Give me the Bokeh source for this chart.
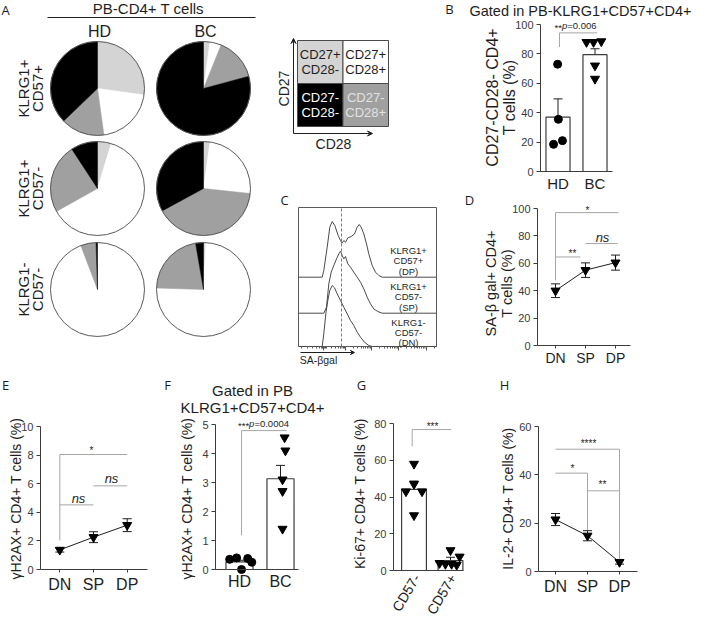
from math import radians, pi
import numpy as np
from bokeh.plotting import figure
from bokeh.models import (Range1d, LinearAxis, FixedTicker, Label, Arrow, VeeHead,
                          Whisker, TeeHead, ColumnDataSource)
from bokeh.layouts import row, column
from bokeh.core.properties import value
from bokeh.embed import file_html
from bokeh.resources import INLINE

# ---------------- data ----------------
# A: CD27/CD28 subsets (%), clockwise from 12 o'clock
slice_names = ["CD27+CD28-", "CD27+CD28+", "CD27-CD28+", "CD27-CD28-"]
pie_rows = [("KLRG1+", "CD57+"), ("KLRG1+", "CD57-"), ("KLRG1-", "CD57-")]
pie_hd = [[27.2, 20.6, 15.0, 37.2], [4.7, 62.2, 23.9, 9.2], [0.1, 94.1, 5.3, 0.5]]
pie_bc = [[2.2, 3.9, 14.7, 79.2], [2.2, 24.5, 40.4, 32.9], [0.8, 74.7, 21.8, 2.7]]

# B: CD27-CD28- in KLRG1+CD57+CD4+ (%)
groups = ["HD", "BC"]
b_mean = [37.0, 79.5]
b_sem = [12.4, 4.0]
b_hd = [73, 35.5, 21, 18.5]
b_bc = [88, 88, 88.5, 72, 63]
b_hd_jit = [-0.01, 0.01, 0.12, -0.12]
b_bc_jit = [-0.23, -0.04, 0.17, 0.0, 0.0]

# C: SA-beta-gal histograms (channel, events)
dp_x = [0, 23.7, 25.3, 28.7, 31.3, 33.7, 36.3, 39.7, 42, 43.7, 45.3, 47, 49.3, 52.7, 56,
        58.7, 60.7, 62.7, 65.3, 68, 70.3, 73.7, 77, 80.3, 83.7, 138]
dp_n = [0, 0, 6.7, 30, 50, 55.7, 51.7, 41.7, 36.7, 34, 36.7, 35, 39.3, 40.7, 43.3,
        50, 52.7, 50, 43.3, 33.3, 23.3, 11.7, 5, 1.7, 0, 0]
sp_x = [0, 25.3, 28, 30.3, 32.7, 35.3, 38, 40.3, 42, 43.7, 45.3, 47, 49.3, 52, 55.3,
        58.7, 62, 65.3, 68.7, 72, 75.3, 79.3, 83.7, 138]
sp_n = [0, 0, 6, 29.3, 41, 47.7, 54.3, 59.3, 62, 57.7, 54.3, 56.7, 49.3, 46, 41,
        36, 31, 24.3, 16, 9.3, 4.3, 1.7, 0, 0]
dn_x = [0, 23.7, 25.3, 27.3, 29.3, 31.3, 33.7, 36, 38.7, 42, 45.3, 48.7, 52, 55.3,
        58.7, 62, 66, 70.3, 73.7, 138]
dn_n = [0, 0, 12.7, 32.7, 46, 56, 61, 58.7, 52.7, 46, 39.3, 32.7, 26, 21,
        14.3, 9.3, 4.3, 1, 0, 0]
hist_offsets = [69.3, 33.3, 0.0]
hist_labels = [("KLRG1+", "CD57+", "(DP)"), ("KLRG1+", "CD57-", "(SP)"), ("KLRG1-", "CD57-", "(DN)")]
c_gate = 43
c_major = [25, 47, 73, 100, 128]
c_minor = [3, 9, 14, 18, 21, 23, 24, 26, 27, 28, 33, 37, 40, 42, 43.5, 45, 46,
           55, 59, 63, 65, 67, 69, 70.5, 72, 81, 86, 89, 92, 94, 96, 97.5, 99,
           108, 113, 116, 119, 121, 123, 125, 126.5, 136]

# D: SA-beta-gal+ (%)
subsets = ["DN", "SP", "DP"]
d_mean = [40.0, 55.0, 60.5]
d_sem = [5.0, 5.3, 5.5]

# E: gH2AX+ (%)
e_mean = [1.37, 2.26, 3.1]
e_sem = [0.15, 0.38, 0.45]

# F: gH2AX+ in KLRG1+CD57+ (%)
f_mean = [0.26, 3.13]
f_sem = [0.06, 0.46]
f_hd = [0.35, 0.4, 0.38, 0.25, 0.0]
f_bc = [4.55, 4.1, 3.1, 2.7, 1.4]
f_hd_jit = [-0.24, -0.07, 0.2, 0.3, 0.05]
f_bc_jit = [0.1, 0.12, 0.05, 0.05, 0.05]

# G: Ki-67+ (%)
g_groups = ["CD57-", "CD57+"]
g_mean = [44.2, 5.4]
g_sem = [4.5, 1.8]
g_neg = [58, 47, 43, 43, 30]
g_pos = [11, 7.5, 4, 3.5, 3.5, 3]
g_neg_jit = [0.0, 0.0, -0.22, 0.22, 0.0]
g_pos_jit = [0.0, 0.25, -0.3, -0.14, 0.03, 0.17]

# H: IL-2+ (%)
h_mean = [21.5, 14.8, 3.9]
h_sem = [2.5, 2.1, 0.85]

# ---------------- style ----------------
FONT = "Liberation Sans"
INK = "#1e1e1e"
AXIS = "#3c3c3c"
BRK = "#a6a6a6"
SLICE_COLORS = ["#d4d4d4", "#ffffff", "#a0a0a0", "#000000"]


class Panel:
    # whole figure is the frame; the plot area (fl, ft, fr, fb) maps to xr / yr
    def __init__(self, ox, oy, w, h, area=None, xr=(0, 1), yr=(0, 1)):
        fl, ft, fr, fb = area if area else (ox, oy, ox + w, oy + h)
        self.fl, self.ft, self.fr, self.fb = fl, ft, fr, fb
        self.xr, self.yr = xr, yr
        self.kx = (xr[1] - xr[0]) / (fr - fl)
        self.ky = (yr[1] - yr[0]) / (fb - ft)
        x0, _ = self.at(ox, 0)
        x1, _ = self.at(ox + w, 0)
        _, y0 = self.at(0, oy + h)
        _, y1 = self.at(0, oy)
        p = figure(width=w, height=h, x_range=Range1d(x0, x1), y_range=Range1d(y0, y1),
                   toolbar_location=None, output_backend="svg",
                   x_axis_location=None, y_axis_location=None, min_border=0)
        p.grid.visible = False
        p.outline_line_color = None
        p.background_fill_color = "white"
        p.border_fill_color = "white"
        self.p = p

    def at(self, X, Y):
        return (self.xr[0] + (X - self.fl) * self.kx, self.yr[0] + (self.fb - Y) * self.ky)

    def text(self, X, Y, s, size=12, angle=0, align="center", color=INK,
             style="normal", font=FONT, baseline="middle"):
        x, y = self.at(X, Y)
        self.p.add_layout(Label(x=x, y=y, text=s, text_font=font,
                                text_font_size=f"{size}px", text_color=color,
                                text_align=align, text_baseline=baseline,
                                angle=angle, text_font_style=style))


def cat_range(fl, fr, c1, step):
    start = 1 - (c1 - fl) / step
    return (start, start + (fr - fl) / step)


def add_axes(P, yticks, xlabels, xsize=15, xtick=0, show_x=True, standoff=3):
    ya = LinearAxis(ticker=FixedTicker(ticks=yticks, minor_ticks=[]),
                    fixed_location=P.xr[0], bounds=P.yr)
    ya.axis_line_color = AXIS
    ya.major_tick_line_color = AXIS
    ya.major_tick_out = 4
    ya.major_tick_in = 0
    ya.major_label_text_font = FONT
    ya.major_label_text_font_size = "11px"
    ya.major_label_text_color = "#3a3a3a"
    ya.major_label_standoff = 3
    P.p.add_layout(ya, "left")
    ticks = list(range(1, len(xlabels) + 1)) if show_x else []
    xa = LinearAxis(ticker=FixedTicker(ticks=ticks, minor_ticks=[]),
                    fixed_location=P.yr[0], bounds=P.xr)
    xa.major_label_overrides = {i + 1: s for i, s in enumerate(xlabels)}
    xa.axis_line_color = AXIS
    xa.major_tick_line_color = AXIS
    xa.major_tick_out = xtick
    xa.major_tick_in = 0
    xa.major_label_text_font = FONT
    xa.major_label_text_font_size = f"{xsize}px"
    xa.major_label_text_color = INK
    xa.major_label_standoff = standoff
    P.p.add_layout(xa, "below")


def errbars(P, xs, mean, sem, size=9):
    src = ColumnDataSource(dict(x=xs, upper=[m + s for m, s in zip(mean, sem)],
                                lower=[m - s for m, s in zip(mean, sem)]))
    P.p.add_layout(Whisker(source=src, base="x", upper="upper", lower="lower",
                           line_color=INK, line_width=1,
                           upper_head=TeeHead(size=size, line_color=INK, line_width=1),
                           lower_head=TeeHead(size=size, line_color=INK, line_width=1)))


def brackets(P, x0, x1, y):
    P.p.segment(x0=x0, y0=y, x1=x1, y1=y, line_color=BRK, line_width=1)


def legs(P, x, y0, y1):
    P.p.segment(x0=x, y0=y0, x1=x, y1=y1, line_color=BRK, line_width=1)


CW = {"*": .389, "p": .556, "=": .584, ".": .278}


def pvalue(P, Xc, Y, stars, rest, size=9.5):
    ws = sum(CW[c] for c in stars) * size
    wp = CW["p"] * size
    wr = sum(CW.get(c, .556) for c in rest) * size
    x = Xc - (ws + wp + wr) / 2
    P.text(x, Y + 2, stars, size, align="left")
    P.text(x + ws, Y, "p", size, align="left", style="italic")
    P.text(x + ws + wp, Y, rest, size, align="left")


# ---------------- A: pies ----------------
A = Panel(0, 0, 272, 366, xr=(0, 272), yr=(0, 366))
PIE_R = 47
pie_cx = [97, 203]
pie_cy = [88, 188, 289]
for cx, rows_ in zip(pie_cx, [pie_hd, pie_bc]):
    for cy, fracs in zip(pie_cy, rows_):
        x, y = A.at(cx, cy)
        cum = np.cumsum([0] + fracs) / 100.0 * 360.0
        A.p.wedge(x=[x] * 4, y=[y] * 4, radius=PIE_R,
                  start_angle=np.radians(90 - cum[1:]), end_angle=np.radians(90 - cum[:-1]),
                  fill_color=SLICE_COLORS, line_color=SLICE_COLORS, line_width=0.5)
        A.p.circle(x=[x], y=[y], radius=PIE_R, fill_color=None, line_color="#5a5a5a", line_width=1)
A.text(5, 9, "A", 13, font="Open Sans")
A.text(148, 8, "PB-CD4+ T cells", 15)
(lx0, ly), (lx1, _) = A.at(47, 17), A.at(255, 17)
A.p.segment(x0=[lx0], y0=[ly], x1=[lx1], y1=[ly], line_color=INK, line_width=1)
for cx, g in zip(pie_cx, groups):
    A.text(cx + 2, 31, g, 16)
for cy, (l1, l2) in zip(pie_cy, pie_rows):
    A.text(23, cy, l1, 15, angle=pi / 2)
    A.text(37, cy, l2, 15, angle=pi / 2)

# ---------------- legend box ----------------
L = Panel(272, 0, 168, 190, area=(297, 40, 388, 126), xr=(0, 2), yr=(0, 2))
leg_top = ["CD27+", "CD27+", "CD27-", "CD27-"]
leg_bot = ["CD28-", "CD28+", "CD28-", "CD28+"]
leg_col = [0, 1, 0, 1]
leg_row = [1, 1, 0, 0]
leg_fill = [SLICE_COLORS[0], SLICE_COLORS[1], SLICE_COLORS[3], SLICE_COLORS[2]]
leg_txt = [INK, INK, "#ffffff", "#e2e2e2"]
cx = [c + 0.5 for c in leg_col]
cy = [r + 0.5 for r in leg_row]
L.p.rect(x=cx, y=cy, width=1, height=1, fill_color=leg_fill, line_color="#4a4a4a", line_width=1)
L.p.text(x=cx, y=[v + 0.17 for v in cy], text=leg_top, text_color=leg_txt, text_font=value(FONT),
         text_font_size="13px", text_align="center", text_baseline="middle")
L.p.text(x=cx, y=[v - 0.17 for v in cy], text=leg_bot, text_color=leg_txt, text_font=value(FONT),
         text_font_size="13px", text_align="center", text_baseline="middle")
ax0, ay0 = L.at(293, 133)
ax1, ay1 = L.at(293, 38)
bx1, _ = L.at(372, 133)
L.p.add_layout(Arrow(x_start=ax0, y_start=ay0, x_end=ax1, y_end=ay1, line_color=INK, line_width=1,
                     end=VeeHead(size=5, fill_color=INK, line_color=INK, line_width=1)))
L.p.add_layout(Arrow(x_start=ax0, y_start=ay0, x_end=bx1, y_end=ay0, line_color=INK, line_width=1,
                     end=VeeHead(size=5, fill_color=INK, line_color=INK, line_width=1)))
L.text(283, 88, "CD27", 14, angle=pi / 2)
L.text(333, 143, "CD28", 14)

# ---------------- C: histograms ----------------
C = Panel(272, 190, 168, 176, area=(298, 207, 436, 346), xr=(0, 138), yr=(0, 139))
C.p.quad(left=[C.xr[0]], right=[C.xr[1]], bottom=[C.yr[0]], top=[C.yr[1]],
         fill_color=None, line_color="#5a5a5a", line_width=1)
for xs, ns, off in zip([dp_x, sp_x, dn_x], [dp_n, sp_n, dn_n], hist_offsets):
    C.p.line(xs, [n + off for n in ns], line_color="#4a4a4a", line_width=1)
C.p.segment(x0=[c_gate], y0=[C.yr[0]], x1=[c_gate], y1=[C.yr[1]],
            line_color="#777777", line_dash="3 2", line_width=1)
tick_dy = C.ky
C.p.segment(x0=c_major, y0=[0] * len(c_major), x1=c_major, y1=[-4 * tick_dy] * len(c_major),
            line_color="#5a5a5a", line_width=1)
C.p.segment(x0=c_minor, y0=[0] * len(c_minor), x1=c_minor, y1=[-2 * tick_dy] * len(c_minor),
            line_color="#5a5a5a", line_width=1)
hist_label_y = [250, 286, 321.5]
for y0, lines in zip(hist_label_y, hist_labels):
    for k, s in enumerate(lines):
        C.text(408, y0 + 10.3 * k, s, 9.5)
C.text(284, 199, "C", 13, font="Open Sans")
sx0, sy0 = C.at(300, 352)
sx1, _ = C.at(354, 352)
C.p.add_layout(Arrow(x_start=sx0, y_start=sy0, x_end=sx1, y_end=sy0, line_color=INK, line_width=1,
                     end=VeeHead(size=4, fill_color=INK, line_color=INK, line_width=1)))
C.text(318, 359.5, "SA-\u03b2gal", 10.5)

# ---------------- B ----------------
B = Panel(440, 0, 254, 190, area=(540, 24, 612, 171),
          xr=cat_range(540, 612, 557.5, 37), yr=(0, 100))
add_axes(B, [0, 20, 40, 60, 80, 100], groups, xsize=15)
B.p.vbar(x=[1, 2], width=0.65, top=b_mean, fill_color="white", line_color=AXIS, line_width=1.2)
B.p.scatter([1 + j for j in b_hd_jit], b_hd, marker="circle", size=8, color="black")
B.p.scatter([2 + j for j in b_bc_jit], b_bc, marker="inverted_triangle", size=9, color="black")
errbars(B, [1, 2], b_mean, b_sem)
brackets(B, [1.04], [2.06], [94.3])
legs(B, [1.04], [94.3], [84.7])
pvalue(B, 575, 24.5, "**", "=0.006")
B.text(449, 8, "B", 13, font="Open Sans")
B.text(580, 10, "Gated in PB-KLRG1+CD57+CD4+", 14.5)
B.text(492, 97, "CD27-CD28- CD4+", 16, angle=pi / 2)
B.text(509, 97, "T cells (%)", 16, angle=pi / 2)

# ---------------- D ----------------
D = Panel(440, 190, 254, 176, area=(537, 208, 630, 345),
          xr=cat_range(537, 630, 555, 30), yr=(0, 100))
add_axes(D, [0, 20, 40, 60, 80, 100], subsets, xsize=14, xtick=3, standoff=1)
D.p.line([1, 2, 3], d_mean, line_color=INK, line_width=1)
errbars(D, [1, 2, 3], d_mean, d_sem)
D.p.scatter([1, 2, 3], d_mean, marker="inverted_triangle", size=9, color="black")
brackets(D, [1, 1, 2], [3.1, 1.83, 3.07], [97, 64.6, 74.4])
legs(D, [1], [97], [47.6])
D.text(587, 210, "*", 10)
D.text(572, 253, "**", 10)
D.text(602, 237, "ns", 13, style="italic")
D.text(469, 199, "D", 13, font="Open Sans")
D.text(490, 283, "SA-\u03b2 gal+ CD4+", 14.5, angle=pi / 2)
D.text(506, 283, "T cells (%)", 14.5, angle=pi / 2)

# ---------------- E ----------------
E = Panel(0, 376, 160, 251, area=(40, 436, 147, 579),
          xr=cat_range(40, 147, 59.3, 33.7), yr=(0, 10))
add_axes(E, [0, 2, 4, 6, 8, 10], subsets, xsize=16, xtick=3)
E.p.line([1, 2, 3], e_mean, line_color=INK, line_width=1)
errbars(E, [1, 2, 3], e_mean, e_sem)
E.p.scatter([1, 2, 3], e_mean, marker="inverted_triangle", size=9, color="black")
brackets(E, [1, 1, 2], [3, 2, 3], [8.04, 4.52, 5.85])
legs(E, [1], [8.04], [2.03])
E.text(91, 460, "*", 10)
E.text(78, 508, "ns", 13, style="italic")
E.text(111, 488, "ns", 13, style="italic")
E.text(5, 394, "E", 13, font="Open Sans")
E.text(15, 508, "\u03b3H2AX+ CD4+ T cells (%)", 14, angle=pi / 2)

# ---------------- F ----------------
F = Panel(160, 376, 190, 251, area=(215, 434, 298, 579),
          xr=cat_range(215, 298, 239, 41), yr=(0, 5))
add_axes(F, [0, 1, 2, 3, 4, 5], groups, xsize=16)
F.p.vbar(x=[1, 2], width=0.66, top=f_mean, fill_color="white", line_color=AXIS, line_width=1.2)
F.p.scatter([1 + j for j in f_hd_jit], f_hd, marker="circle", size=8, color="black")
F.p.scatter([2 + j for j in f_bc_jit], f_bc, marker="inverted_triangle", size=9, color="black")
errbars(F, [1, 2], f_mean, f_sem)
brackets(F, [1.05], [2.15], [4.79])
legs(F, [1.05], [4.79], [1.18])
pvalue(F, 263, 433, "***", "=0.0004")
F.text(167, 394, "F", 13, font="Open Sans")
F.text(252, 400, "Gated in PB", 15)
F.text(252, 417, "KLRG1+CD57+CD4+", 15)
F.text(186, 508, "\u03b3H2AX+ CD4+ T cells (%)", 14, angle=pi / 2)

# ---------------- G ----------------
G = Panel(350, 376, 145, 251, area=(393, 433, 463, 580),
          xr=cat_range(393, 463, 413.5, 36.5), yr=(0, 80))
add_axes(G, [0, 20, 40, 60, 80], g_groups, show_x=False)
G.p.vbar(x=[1, 2], width=0.68, top=g_mean, fill_color="white", line_color=AXIS, line_width=1.2)
G.p.scatter([1 + j for j in g_neg_jit], g_neg, marker="inverted_triangle", size=9, color="black")
G.p.scatter([2 + j for j in g_pos_jit], g_pos, marker="inverted_triangle", size=9, color="black")
errbars(G, [1, 2], g_mean, g_sem)
brackets(G, [0.95], [2.02], [76.7])
legs(G, [0.95], [76.7], [67.6])
G.text(432, 436, "***", 10)
for X, s in zip([416, 452.5], g_groups):
    G.text(X, 585, s, 14, angle=radians(59), align="right")
G.text(361, 394, "G", 13, font="Open Sans")
G.text(359, 503, "Ki-67+ CD4+ T cells (%)", 14, angle=pi / 2)

# ---------------- H ----------------
H = Panel(495, 376, 199, 251, area=(538, 436, 637, 581),
          xr=cat_range(538, 637, 555, 32), yr=(0, 60))
add_axes(H, [0, 20, 40, 60], subsets, xsize=16, xtick=3)
H.p.line([1, 2, 3], h_mean, line_color=INK, line_width=1)
errbars(H, [1, 2, 3], h_mean, h_sem)
H.p.scatter([1, 2, 3], h_mean, marker="inverted_triangle", size=9, color="black")
brackets(H, [1, 1, 2], [3, 2, 3], [50.6, 40.7, 33.4])
legs(H, [3, 2], [50.6, 40.7], [5.1, 17.2])
H.text(588, 453, "****", 10)
H.text(572, 478, "*", 10)
H.text(602, 494, "**", 10)
H.text(504, 394, "H", 13, font="Open Sans")
H.text(507, 508, "IL-2+ CD4+ T cells (%)", 14, angle=pi / 2)

p = column(row(A.p, column(L.p, C.p), column(B.p, D.p)),
           row(E.p, F.p, G.p, H.p))

open("out.html", "w").write(file_html(p, INLINE))
